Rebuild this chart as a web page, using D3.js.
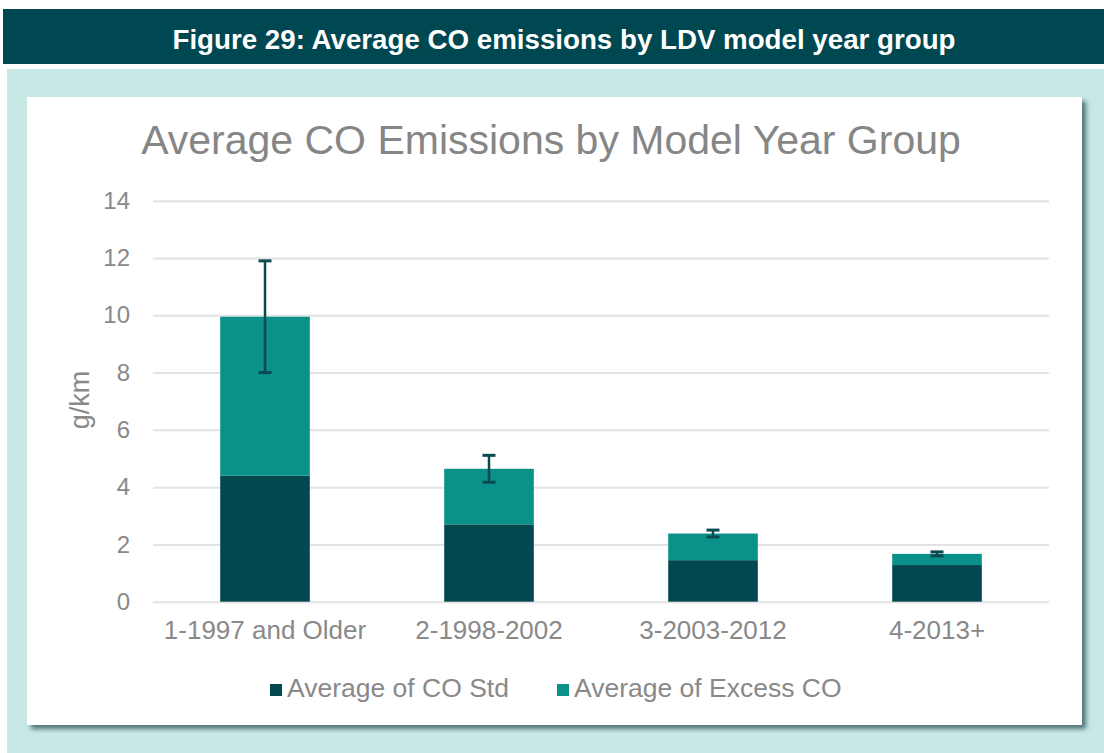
<!DOCTYPE html>
<html>
<head>
<meta charset="utf-8">
<script src="https://cdn.jsdelivr.net/npm/d3@7"></script>
<style>
  body { margin: 0; background: #ffffff; }
  svg text { font-family: "Liberation Sans", Arial, sans-serif; }
</style>
</head>
<body>
<div id="chart"></div>
<script>
// values
var groups = ["1-1997 and Older", "2-1998-2002", "3-2003-2012", "4-2013+"];
var coStd = [4.4, 2.7, 1.45, 1.28];
var excessCo = [5.55, 1.94, 0.93, 0.39];
var excessErr = [1.95, 0.47, 0.12, 0.07];
var seriesNames = ["Average of CO Std", "Average of Excess CO"];
var yTicks = [0, 2, 4, 6, 8, 10, 12, 14];

var W = 1104, H = 753;
var colors = ["#03474f", "#0a918a"];
var textGray = "#898989";

var svg = d3.select("#chart").append("svg")
    .attr("width", W)
    .attr("height", H);

var defs = svg.append("defs");
var f = defs.append("filter").attr("id", "shadow")
    .attr("x", "-5%").attr("y", "-5%").attr("width", "110%").attr("height", "110%");
f.append("feDropShadow")
    .attr("dx", 4).attr("dy", 4).attr("stdDeviation", 2.5)
    .attr("flood-color", "#3a5e5e").attr("flood-opacity", 0.85);

// header band
svg.append("rect").attr("x", 3).attr("y", 9).attr("width", W - 3).attr("height", 55)
    .attr("fill", "#004851");
svg.append("text")
    .attr("x", 564).attr("y", 49)
    .attr("text-anchor", "middle")
    .attr("fill", "#ffffff")
    .attr("font-weight", "bold")
    .attr("font-size", 28)
    .attr("textLength", 783)
    .attr("lengthAdjust", "spacingAndGlyphs")
    .text("Figure 29: Average CO emissions by LDV model year group");

// light panel + white card
svg.append("rect").attr("x", 7).attr("y", 69).attr("width", W - 7).attr("height", H - 69)
    .attr("fill", "#c8e8e6");
svg.append("rect").attr("x", 27).attr("y", 97).attr("width", 1055).attr("height", 628)
    .attr("fill", "#ffffff")
    .attr("filter", "url(#shadow)");

// chart title
svg.append("text")
    .attr("x", 551).attr("y", 154)
    .attr("text-anchor", "middle")
    .attr("fill", "#868686")
    .attr("font-size", 41)
    .text("Average CO Emissions by Model Year Group");

var margin = { left: 153, right: 1049, top: 200.7, bottom: 601.7 };

var x = d3.scaleBand()
    .domain(groups)
    .range([margin.left, margin.right])
    .paddingInner(0.6)
    .paddingOuter(0.3);

var y = d3.scaleLinear()
    .domain([0, 14])
    .range([margin.bottom, margin.top]);

// gridlines + y tick labels
var yAxis = svg.append("g")
    .attr("transform", "translate(" + margin.left + ",0)")
    .call(d3.axisLeft(y).tickValues(yTicks).tickSize(-(margin.right - margin.left)).tickPadding(23));
yAxis.select(".domain").remove();
yAxis.selectAll(".tick line").attr("stroke", "#e3e3e3").attr("stroke-width", 2);
yAxis.selectAll(".tick text")
    .attr("fill", textGray)
    .attr("font-size", 24)
    .attr("font-family", "Liberation Sans, Arial, sans-serif");

// y axis title
svg.append("text")
    .attr("transform", "translate(89,400) rotate(-90)")
    .attr("text-anchor", "middle")
    .attr("fill", textGray)
    .attr("font-size", 27)
    .text("g/km");

// stacked bars
var rows = groups.map(function(g, i) {
  return { group: g, std: coStd[i], excess: excessCo[i], err: excessErr[i] };
});
var stack = d3.stack().keys(["std", "excess"]);
var layers = stack(rows);

svg.selectAll(".layer")
  .data(layers)
  .enter().append("g")
    .attr("class", "layer")
    .attr("fill", function(d, i) { return colors[i]; })
  .selectAll("rect")
  .data(function(d) { return d; })
  .enter().append("rect")
    .attr("x", function(d) { return x(d.data.group); })
    .attr("y", function(d) { return y(d[1]); })
    .attr("width", x.bandwidth())
    .attr("height", function(d) { return y(d[0]) - y(d[1]); });

// error bars on the excess series
var errColor = "#0b4a51";
var capW = 13;
var eb = svg.selectAll(".errbar")
  .data(layers[1])
  .enter().append("g")
    .attr("class", "errbar")
    .attr("stroke", errColor)
    .attr("stroke-width", 2.5);
eb.append("line")
    .attr("x1", function(d) { return x(d.data.group) + x.bandwidth() / 2; })
    .attr("x2", function(d) { return x(d.data.group) + x.bandwidth() / 2; })
    .attr("y1", function(d) { return y(d[1] + d.data.err); })
    .attr("y2", function(d) { return y(d[1] - d.data.err); });
eb.selectAll(".cap")
  .data(function(d) { return [d[1] + d.data.err, d[1] - d.data.err].map(function(v) { return { v: v, g: d.data.group }; }); })
  .enter().append("line")
    .attr("class", "cap")
    .attr("stroke-width", 3)
    .attr("x1", function(d) { return x(d.g) + x.bandwidth() / 2 - capW / 2; })
    .attr("x2", function(d) { return x(d.g) + x.bandwidth() / 2 + capW / 2; })
    .attr("y1", function(d) { return y(d.v); })
    .attr("y2", function(d) { return y(d.v); });

// x labels
svg.selectAll(".xlab")
  .data(groups)
  .enter().append("text")
    .attr("class", "xlab")
    .attr("x", function(d) { return x(d) + x.bandwidth() / 2; })
    .attr("y", 639)
    .attr("text-anchor", "middle")
    .attr("fill", textGray)
    .attr("font-size", 26)
    .text(function(d) { return d; });

// legend
var legendX = [270, 557];
var lg = svg.selectAll(".legend")
  .data(seriesNames)
  .enter().append("g")
    .attr("class", "legend")
    .attr("transform", function(d, i) { return "translate(" + legendX[i] + ",697)"; });
lg.append("rect")
    .attr("x", 0).attr("y", -13)
    .attr("width", 12).attr("height", 12)
    .attr("fill", function(d, i) { return colors[i]; });
lg.append("text")
    .attr("x", 17).attr("y", 0)
    .attr("fill", textGray)
    .attr("font-size", 26.5)
    .text(function(d) { return d; });
</script>
</body>
</html>
